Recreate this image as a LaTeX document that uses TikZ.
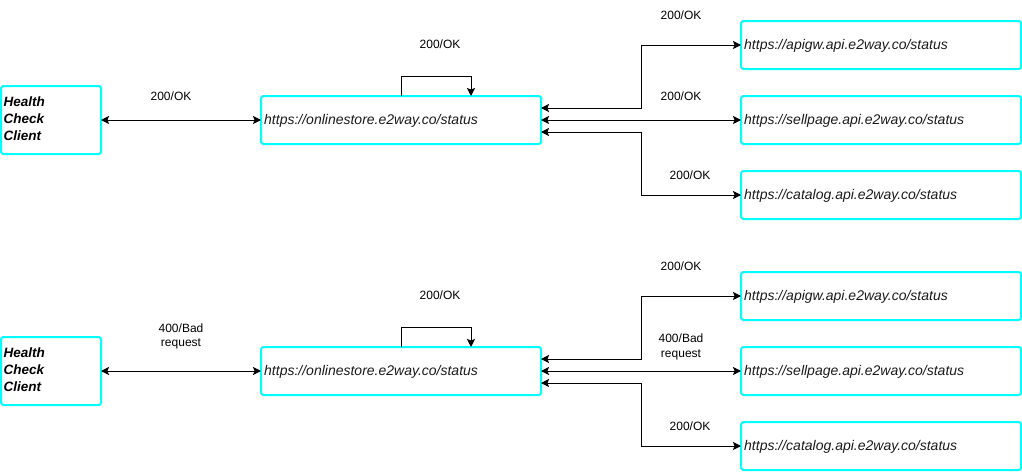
\documentclass[tikz,border=0pt]{standalone}
\usepackage{fontspec}
\setmainfont{Liberation Sans}
\usetikzlibrary{arrows.meta}
\definecolor{boxcyan}{HTML}{00FFFF}
\definecolor{txtgrey}{HTML}{1A1A1A}
\tikzset{
  box/.style={draw=boxcyan, line width=2pt, rounded corners=2.5pt, anchor=north west, inner sep=0pt, outer sep=0pt},
  urltext/.style={anchor=west, text=txtgrey, font=\fontsize{14pt}{16pt}\selectfont\itshape, inner sep=0pt},
  lbl/.style={font=\fontsize{12pt}{14.5pt}\selectfont, align=center, inner sep=0pt},
  conn/.style={line width=1pt, -{Stealth[length=8pt,width=8pt,inset=1.5pt]}},
  dconn/.style={line width=1pt, {Stealth[length=8pt,width=8pt,inset=1.5pt]}-{Stealth[length=8pt,width=8pt,inset=1.5pt]}},
}
\newcommand{\drawhalf}[5]{%
  \begin{scope}[yshift=-#2pt]
    % boxes
    \node[box, minimum width=100pt, minimum height=68pt] (hc#1) at (1,86) {};
    \node[anchor=north west, inner sep=0pt, align=left, font=\fontsize{13.5pt}{17pt}\selectfont\bfseries\itshape] (hct#1) at (3.5,97) {Health\\Check\\Client};
    \node[box, minimum width=280pt, minimum height=48pt] (on#1) at (261,96) {};
    \node[urltext] (ont#1) at (264,121) {https://onlinestore.e2way.co/status};
    \node[box, minimum width=280pt, minimum height=48pt] (ag#1) at (741,21) {};
    \node[urltext] (agt#1) at (744,46) {https://apigw.api.e2way.co/status};
    \node[box, minimum width=280pt, minimum height=48pt] (sp#1) at (741,96) {};
    \node[urltext] (spt#1) at (744,121) {https://sellpage.api.e2way.co/status};
    \node[box, minimum width=280pt, minimum height=48pt] (ca#1) at (741,171) {};
    \node[urltext] (cat#1) at (744,196) {https://catalog.api.e2way.co/status};
    % loop coordinates
    \coordinate (la#1) at (401,96);
    \coordinate (lb#1) at (471,96);
    \coordinate (ja#1) at (641,0);
    % connectors
    \draw[dconn] (hc#1.east) -- (on#1.west);
    \draw[conn] (la#1) -- ++(0,-20) -| (lb#1);
    \draw[dconn] (on#1.east |- 0,108) -| (ja#1 |- 0,108) |- (ag#1.west);
    \draw[dconn] (on#1.east) -- (sp#1.west);
    \draw[dconn] (on#1.east |- 0,132) -| (ja#1 |- 0,132) |- (ca#1.west);
    % labels
    \node[lbl] (l1#1) at (#3) {#4};
    \node[lbl] (l2#1) at (440,44.5) {200/OK};
    \node[lbl] (l3#1) at (681,15) {200/OK};
    \node[lbl] (l4#1) at (681,96) {#5};
    \node[lbl] (l5#1) at (690,175) {200/OK};
  \end{scope}%
}
\begin{document}
\begin{tikzpicture}[x=1pt,y=-1pt]
  \useasboundingbox (0,0) rectangle (1022,472);
  \drawhalf{a}{0}{171,96}{200/OK}{200/OK}
  \drawhalf{b}{251}{181,85.5}{400/Bad\\request}{400/Bad\\request}
\end{tikzpicture}
\end{document}
